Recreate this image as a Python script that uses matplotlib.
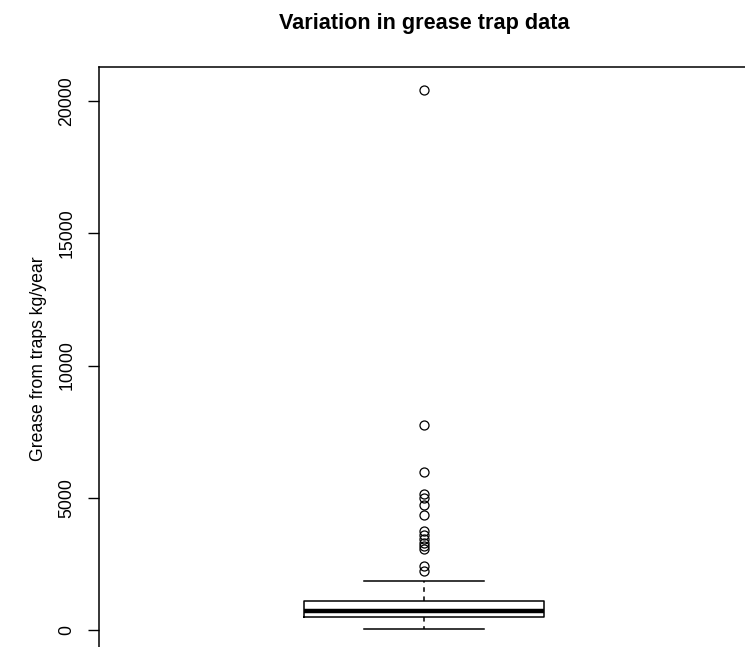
import matplotlib
matplotlib.use('Agg')
import matplotlib.pyplot as plt

# box statistics (kg/year)
q1 = 505
median = 700
q3 = 1110
whisker_low = 40
whisker_high = 1865
outliers = [20430, 7750, 5970, 5150, 5000, 4730, 4350,
            3750, 3580, 3440, 3300, 3170, 3050, 2420, 2220]
yticks = [0, 5000, 10000, 15000, 20000]

plt.rcParams['font.family'] = ['Liberation Sans', 'DejaVu Sans']

fig = plt.figure(figsize=(7.45, 6.47), dpi=100)
# plot region is cropped on the right and bottom, as in the original
ax = fig.add_axes([99/745, 1 - 650/647, 650/745, (650 - 67)/647])

stats = [{'med': median, 'q1': q1, 'q3': q3,
          'whislo': whisker_low, 'whishi': whisker_high,
          'fliers': outliers}]
ax.bxp(stats, positions=[1], widths=0.37, showfliers=True,
       boxprops=dict(color='black', linewidth=1.1),
       medianprops=dict(color='black', linewidth=3.2, solid_capstyle='butt'),
       whiskerprops=dict(color='black', linewidth=1.1, linestyle=(0, (3, 3))),
       capprops=dict(color='black', linewidth=1.1),
       flierprops=dict(marker='o', markerfacecolor='none', markeredgecolor='black',
                       markersize=6.5, markeredgewidth=0.9))

ax.set_xlim(0.5, 1.5)
ax.set_ylim(-756, 21287)
ax.set_xticks([])
ax.set_yticks(yticks)
ax.set_yticklabels([str(t) for t in yticks], rotation=90, va='center')
ax.tick_params(axis='y', length=8, width=1, pad=9, labelsize=12.7)
for sp in ax.spines.values():
    sp.set_linewidth(1.1)

ax.text((38 - 99)/650, 0.5, 'Grease from traps kg/year', transform=ax.transAxes,
        rotation=90, ha='center', va='center', fontsize=12.7)
fig.text(424/745, 1 - 23/647, 'Variation in grease trap data',
         ha='center', va='center', fontsize=15.6, fontweight='bold')

fig.savefig('out.png', dpi=100)
